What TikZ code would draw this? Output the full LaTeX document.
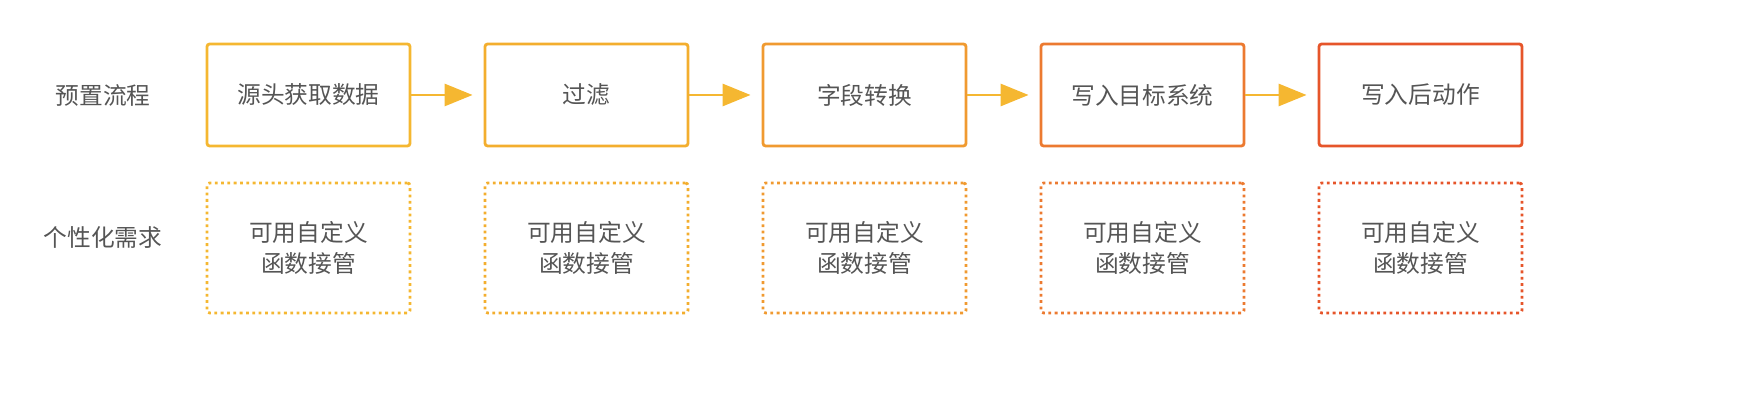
\documentclass[tikz,border=0pt]{standalone}
\usepackage{fontspec}
\newfontfamily\cjk{Noto Sans CJK SC}
\usetikzlibrary{arrows.meta}
\definecolor{txtgray}{HTML}{555555}
\definecolor{arrowyel}{HTML}{F5B731}
\definecolor{stepa}{HTML}{F5B731}
\definecolor{stepb}{HTML}{F3AE2E}
\definecolor{stepc}{HTML}{F09A30}
\definecolor{stepd}{HTML}{EC7A30}
\definecolor{stepe}{HTML}{E6552A}
\tikzset{
    step box/.style={draw=#1, line width=1.6pt, rounded corners=1.5pt, minimum width=4.06cm, minimum height=2.04cm, text=txtgray, font=\cjk\fontsize{13.5}{16}\selectfont}, % 预置流程的方框
    custom box/.style={draw=#1, line width=1.6pt, dotted, rounded corners=1.5pt, minimum width=4.06cm, minimum height=2.6cm, text=txtgray, align=center, font=\cjk\fontsize{13.5}{18}\selectfont}, % 自定义函数的方框
    row label/.style={text=txtgray, font=\cjk\fontsize{13.5}{16}\selectfont}
}
\begin{document}
\begin{tikzpicture}
            \useasboundingbox (0,0) rectangle (35.12,8.12);

            \node[row label] (preset) at (2.06,6.22) {预置流程};
            \node[row label] (custom) at (2.06,3.36) {个性化需求};

            \foreach \i/\c/\t in {1/stepa/源头获取数据, 2/stepb/过滤, 3/stepc/字段转换, 4/stepd/写入目标系统, 5/stepe/写入后动作} {
                \node[step box=\c] (s\i) at ({6.17+(\i-1)*5.56}, 6.22) {\t};
                \node[custom box=\c] (f\i) at ({6.17+(\i-1)*5.56}, 3.16) {可用自定义\\函数接管};
            }

            \foreach \i [count=\j from 2] in {1,...,4} {
                \draw[arrowyel, line width=1.6pt, -{Triangle[length=0.56cm, width=0.44cm]}, shorten >=0.22cm] (s\i.east) -- (s\j.west);
            }
\end{tikzpicture}
\end{document}
